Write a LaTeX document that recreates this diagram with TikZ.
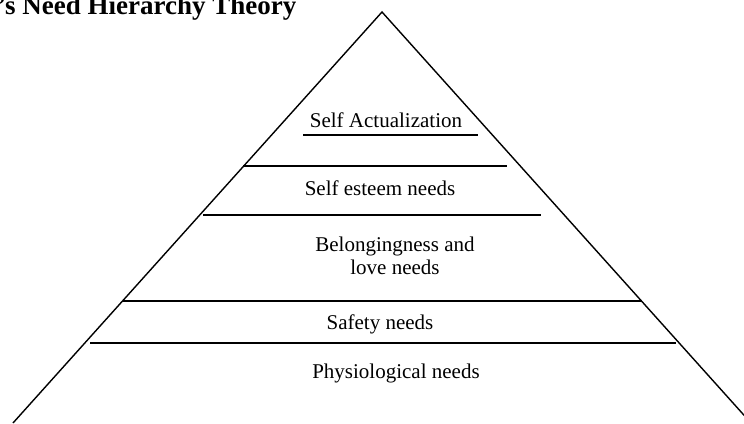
\documentclass[tikz,border=0pt]{standalone}
\usepackage{fontspec}
\setmainfont{Liberation Serif}
\tikzset{
  side/.style={line width=1.4pt},
  level/.style={line width=1.9pt},
  tier/.style={anchor=base, inner sep=0pt, font=\fontsize{21}{23}\selectfont}
}

\begin{document}
\begin{tikzpicture}[x=1pt,y=1pt]
    \useasboundingbox (0,0) rectangle (744,423);
    % Title, cut at the left edge
    \node (title) [anchor=base west, inner sep=0pt, font=\bfseries\fontsize{27}{29}\selectfont] at (-3,408) {’s Need Hierarchy Theory};

    % Draw the pyramid outline (no base line)
    \draw[side] (13,0) -- (382,411) -- (751,0);

    % Dividing lines between the levels
    \draw[level] (303,288) -- (478,288); % under the top label
    \draw[level] (243,257) -- (507,257);
    \draw[level] (203,208) -- (541,208);
    \draw[level] (123,122) -- (642,122);
    \draw[level] (90,80) -- (676,80);

    % Level labels, top to bottom
    \node (actual) [tier] at (386,295) {Self Actualization};
    \node (esteem) [tier] at (380,227) {Self esteem needs};
    \node (belong) [tier, align=center] at (395,148) {Belongingness and\\love needs};
    \node (safety) [tier] at (380,93) {Safety needs};
    \node (physio) [tier] at (396,45) {Physiological needs};
\end{tikzpicture}
\end{document}
